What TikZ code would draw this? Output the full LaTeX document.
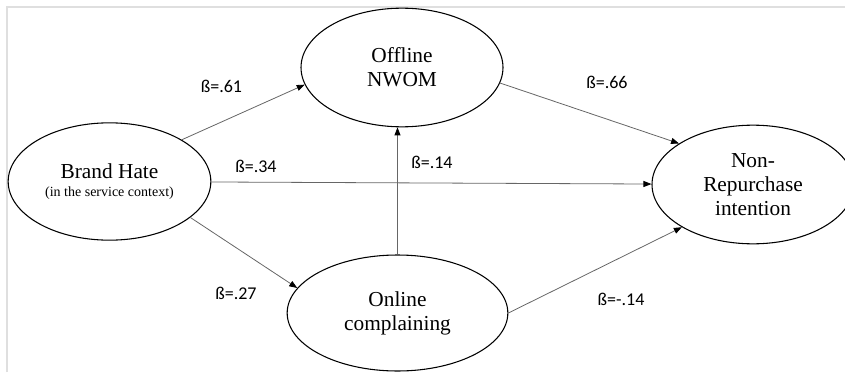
\documentclass[tikz,border=0pt]{standalone}
\usepackage{fontspec}
\setmainfont{Liberation Serif}
\newfontfamily\coeffont{Carlito}
\usetikzlibrary{arrows.meta, shapes.geometric, positioning}

\tikzset{
  latent/.style={ellipse, draw, line width=0.8pt, inner sep=0pt, align=center,
    font=\fontsize{16}{18}\selectfont},
  conn/.style={draw=black!60, line width=0.6pt,
    -{Triangle[length=6pt, width=4.5pt, color=black]}},
  coef/.style={font=\coeffont\fontsize{13.5}{15}\selectfont, inner sep=0pt}
}

\begin{document}
\begin{tikzpicture}[x=7.5pt, y=7.5pt]
\useasboundingbox (0,0) rectangle (84.5,37.2);
\clip (0,0) rectangle (84.5,37.2);
% frame
\draw[gray!25, line width=1.5pt] (0.7,0) -- (0.7,36.5) -- (84.5,36.5);
% constructs
\node[latent, minimum width=152pt, minimum height=88pt] (bh) at (10.95,19.05)
  {\raisebox{-3pt}{Brand Hate}\\[-1pt]{\fontsize{10.5}{12}\selectfont (in the service context)}};
\node[latent, minimum width=151.5pt, minimum height=89pt] (on) at (40.2,30.45) {Offline\\NWOM};
\node[latent, minimum width=151.5pt, minimum height=89pt] (nr) at (75.3,18.75) {Non-\\Repurchase\\intention};
\node[latent, minimum width=165.5pt, minimum height=87pt] (oc) at (39.75,5.9) {Online\\complaining};
% paths
\draw[conn] (bh.30) -- (on.190);
\draw[conn] (on.351) -- (nr.151);
\draw[conn] (bh) -- (nr);
\draw[conn] (bh.336) -- (oc.166);
\draw[conn] (oc.north) -- (oc.north |- on.south);
\draw[conn] (oc.east) -- (nr.211);
% coefficients
\node[coef] (b61) at (22.15,28.6) {ß=.61};
\node[coef] (b66) at (60.7,29.0) {ß=.66};
\node[coef] (b34) at (25.6,20.6) {ß=.34};
\node[coef] (b14) at (43.2,21.0) {ß=.14};
\node[coef] (b27) at (23.6,7.9) {ß=.27};
\node[coef] (bm14) at (62.1,7.3) {ß=-.14};
\end{tikzpicture}
\end{document}
